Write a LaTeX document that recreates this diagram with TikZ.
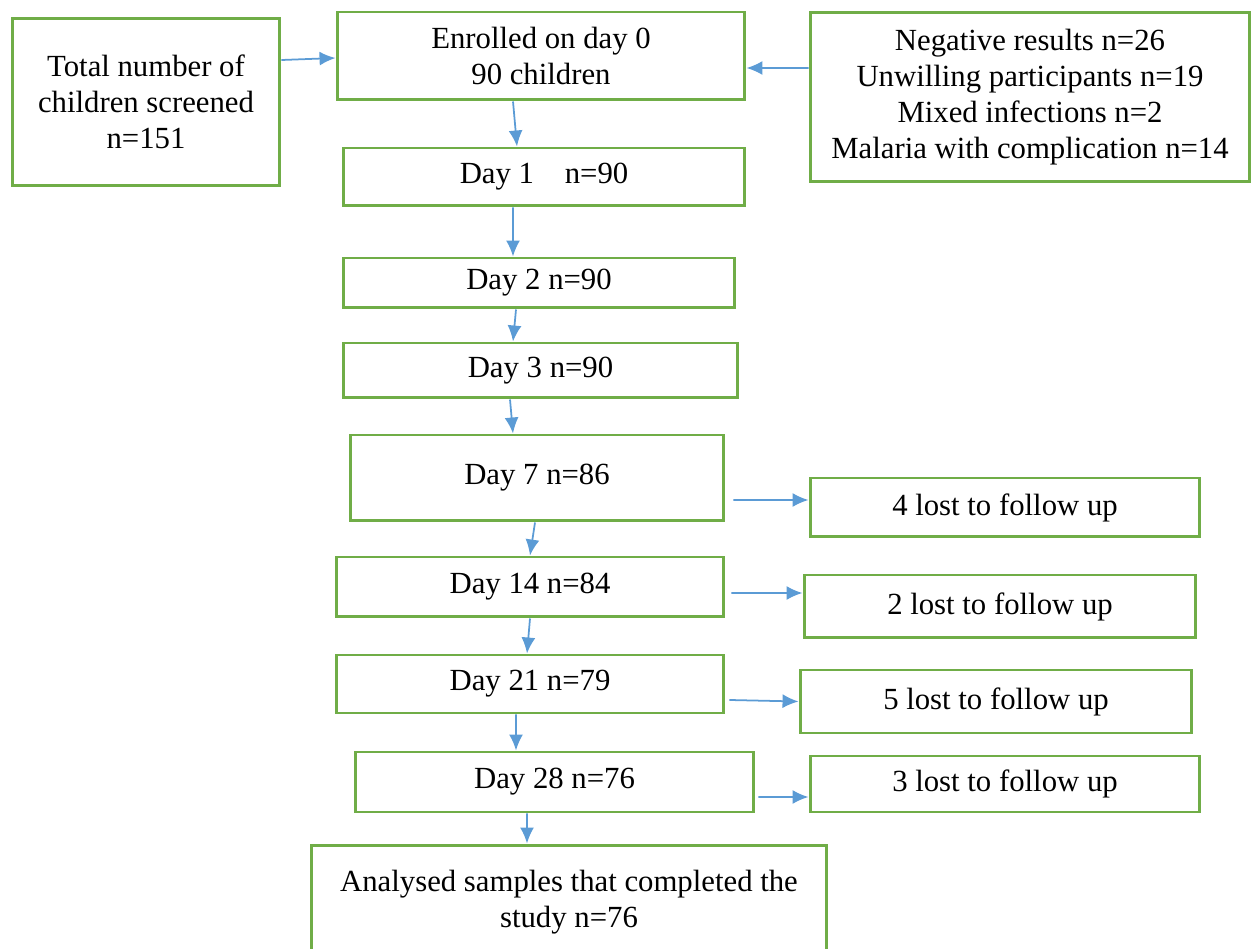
\documentclass[tikz,border=0pt]{standalone}
\usepackage{fontspec}
\setmainfont{Liberation Serif}
\usetikzlibrary{arrows.meta}
\definecolor{boxgreen}{RGB}{112,173,71}
\definecolor{arrblue}{RGB}{91,155,213}
\tikzset{
  stagebox/.style={draw=boxgreen,line width=1.7pt,fill=white,align=center,
    inner sep=0pt,font=\fontsize{17.5}{20.5}\selectfont},
  arr/.style={draw=arrblue,line width=1pt,-{Latex[length=0.32cm,width=0.28cm]}}
}
\begin{document}
\begin{tikzpicture}[x=0.02cm,y=-0.02cm]
\useasboundingbox (0,0) rectangle (1252,949);
\node[stagebox,minimum width=5.36cm,minimum height=3.36cm] (total) at (146,102) {Total number of\\children screened\\n=151};
\node[stagebox,minimum width=8.16cm,minimum height=1.76cm] (enrol) at (541,56) {Enrolled on day 0\\90 children};
\node[stagebox,minimum width=8.8cm,minimum height=3.4cm] (neg) at (1030,97) {Negative results n=26\\Unwilling participants n=19\\Mixed infections n=2\\Malaria with complication n=14};
\node[stagebox,minimum width=8.04cm,minimum height=1.16cm] (day1) at (544,177) {Day 1\ \ \ \ n=90};
\node[stagebox,minimum width=7.84cm,minimum height=1cm] (day2) at (539,283) {Day 2 n=90};
\node[stagebox,minimum width=7.9cm,minimum height=1.1cm] (day3) at (540.5,370.5) {Day 3 n=90};
\node[stagebox,minimum width=7.48cm,minimum height=1.72cm] (day7) at (537,478) {Day 7 n=86};
\node[stagebox,minimum width=7.8cm,minimum height=1.18cm] (lost4) at (1005,507.5) {4 lost to follow up};
\node[stagebox,minimum width=7.76cm,minimum height=1.2cm] (day14) at (530,587) {Day 14 n=84};
\node[stagebox,minimum width=7.84cm,minimum height=1.26cm] (lost2) at (1000,606.5) {2 lost to follow up};
\node[stagebox,minimum width=7.76cm,minimum height=1.16cm] (day21) at (530,684) {Day 21 n=79};
\node[stagebox,minimum width=7.84cm,minimum height=1.26cm] (lost5) at (996,701.5) {5 lost to follow up};
\node[stagebox,minimum width=7.98cm,minimum height=1.2cm] (day28) at (554.5,782) {Day 28 n=76};
\node[stagebox,minimum width=7.8cm,minimum height=1.12cm] (lost3) at (1005,784) {3 lost to follow up};
\node[stagebox,minimum width=10.32cm,minimum height=2.3cm] (anal) at (569,902.5) {Analysed samples that completed the\\study n=76};
\draw[arr] ([yshift=0.84cm]total.east) -- ([yshift=-0.04cm]enrol.west);
\draw[arr] ([yshift=0.58cm]neg.west) -- ([yshift=-0.24cm]enrol.east);
\draw[arr] ([xshift=-0.56cm]enrol.south) -- ([xshift=-0.54cm]day1.north);
\draw[arr] ([xshift=-0.62cm]day1.south) -- ([xshift=-0.52cm]day2.north);
\draw[arr] ([xshift=-0.46cm]day2.south) -- ([xshift=-0.55cm]day3.north);
\draw[arr] ([xshift=-0.61cm]day3.south) -- ([xshift=-0.48cm]day7.north);
\draw[arr] ([xshift=-0.04cm]day7.south) -- (day14.north);
\draw[arr] (day14.south) -- ([xshift=-0.06cm]day21.north);
\draw[arr] ([xshift=-0.28cm]day21.south) -- ([xshift=-0.77cm]day28.north);
\draw[arr] ([xshift=-0.55cm]day28.south) -- ([xshift=-0.84cm]anal.north);
\draw[arr] ([xshift=0.16cm,yshift=-0.44cm]day7.east) -- ([yshift=0.15cm]lost4.west);
\draw[arr] ([xshift=0.12cm,yshift=-0.12cm]day14.east) -- ([yshift=0.27cm]lost2.west);
\draw[arr] ([xshift=0.08cm,yshift=-0.32cm]day21.east) -- (lost5.west);
\draw[arr] ([xshift=0.06cm,yshift=-0.3cm]day28.east) -- ([yshift=-0.26cm]lost3.west);
\end{tikzpicture}
\end{document}
